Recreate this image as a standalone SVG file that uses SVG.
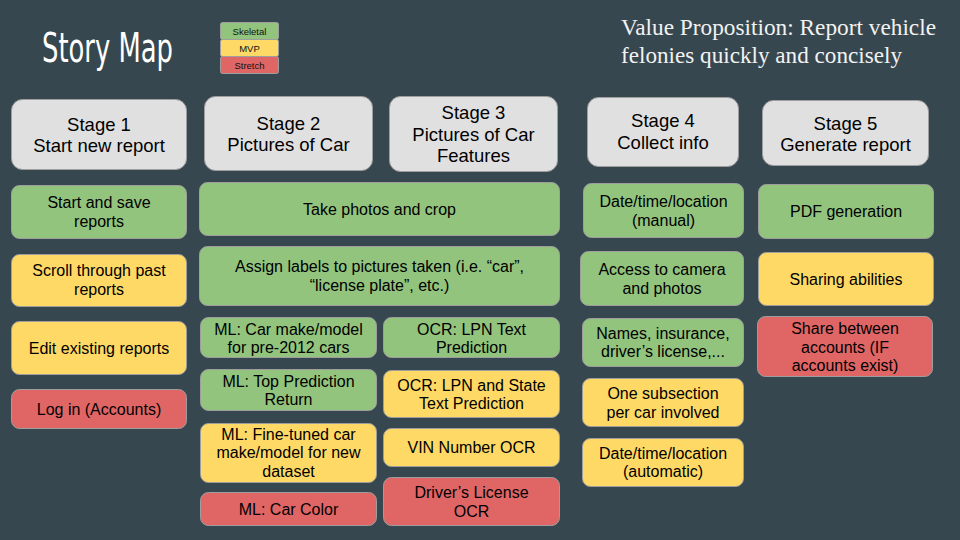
<svg xmlns="http://www.w3.org/2000/svg" width="960" height="540" viewBox="0 0 960 540">
  <style>
    .stage { fill: #e0e0e0; stroke: #9e9e9e; stroke-width: 1; }
    .sk { fill: #93c47d; stroke: #9e9e9e; stroke-width: 1; }
    .mvp { fill: #ffd966; stroke: #9e9e9e; stroke-width: 1; }
    .st { fill: #e06666; stroke: #9e9e9e; stroke-width: 1; }
    text { font-family: "Liberation Sans", Arial, sans-serif; fill: #000; text-anchor: middle; }
    .h { font-size: 18.5px; }
    .c { font-size: 16px; }
    .lg { font-size: 9.5px; fill: #111; }
    .title { font-family: "DejaVu Sans Condensed", "Liberation Sans Narrow", "Liberation Sans", sans-serif; font-size: 40px; fill: #fff; text-anchor: start; }
    .vp { font-family: "Liberation Serif", "Times New Roman", serif; font-size: 23px; fill: #f2f2f2; text-anchor: start; }
  </style>

  <rect width="960" height="540" fill="#37474f"/>

  <!-- Heading and value proposition -->
  <text class="title" x="42" y="62" textLength="131" lengthAdjust="spacingAndGlyphs">Story Map</text>
  <text class="vp" x="621" y="35" textLength="315" lengthAdjust="spacingAndGlyphs">Value Proposition: Report vehicle</text>
  <text class="vp" x="621" y="63" textLength="281" lengthAdjust="spacingAndGlyphs">felonies quickly and concisely</text>

  <!-- Priority legend -->
  <g id="legend">
    <rect class="sk" x="220.5" y="22.5" width="58" height="17" rx="2"/>
    <rect class="mvp" x="220.5" y="39.5" width="58" height="17" rx="2"/>
    <rect class="st" x="220.5" y="56.5" width="58" height="17" rx="2"/>
    <text class="lg" x="249.5" y="34.5">Skeletal</text>
    <text class="lg" x="249.5" y="51.5">MVP</text>
    <text class="lg" x="249.5" y="68.5">Stretch</text>
  </g>

  <!-- Stage headers -->
  <g id="stage1">
    <rect class="stage" x="11.5" y="99.5" width="175" height="70" rx="11"/>
    <text class="h" x="99" y="131">Stage 1</text>
    <text class="h" x="99" y="152">Start new report</text>
  </g>
  <g id="stage2">
    <rect class="stage" x="204.5" y="96.5" width="168" height="74" rx="11"/>
    <text class="h" x="288.5" y="130">Stage 2</text>
    <text class="h" x="288.5" y="151">Pictures of Car</text>
  </g>
  <g id="stage3">
    <rect class="stage" x="389.5" y="96.5" width="168" height="75" rx="11"/>
    <text class="h" x="473.5" y="119">Stage 3</text>
    <text class="h" x="473.5" y="140.5">Pictures of Car</text>
    <text class="h" x="473.5" y="162">Features</text>
  </g>
  <g id="stage4">
    <rect class="stage" x="587.5" y="97.5" width="151" height="69" rx="11"/>
    <text class="h" x="663" y="127">Stage 4</text>
    <text class="h" x="663" y="149">Collect info</text>
  </g>
  <g id="stage5">
    <rect class="stage" x="762.5" y="100.5" width="166" height="65" rx="11"/>
    <text class="h" x="845.5" y="130">Stage 5</text>
    <text class="h" x="845.5" y="151">Generate report</text>
  </g>

  <!-- Stage 1 stories -->
  <g id="start-save">
    <rect class="sk" x="11.5" y="185.5" width="175" height="53" rx="8"/>
    <text class="c" x="99" y="208">Start and save</text>
    <text class="c" x="99" y="227">reports</text>
  </g>
  <g id="scroll-past">
    <rect class="mvp" x="11.5" y="254.5" width="175" height="52" rx="8"/>
    <text class="c" x="99" y="276">Scroll through past</text>
    <text class="c" x="99" y="295">reports</text>
  </g>
  <g id="edit-existing">
    <rect class="mvp" x="11.5" y="321.5" width="175" height="53" rx="8"/>
    <text class="c" x="99" y="353.5">Edit existing reports</text>
  </g>
  <g id="log-in">
    <rect class="st" x="11.5" y="389.5" width="175" height="39" rx="8"/>
    <text class="c" x="99" y="414.5">Log in (Accounts)</text>
  </g>

  <!-- Stage 2 and 3 shared stories -->
  <g id="take-photos">
    <rect class="sk" x="199.5" y="182.5" width="360" height="53" rx="8"/>
    <text class="c" x="379.5" y="214.5">Take photos and crop</text>
  </g>
  <g id="assign-labels">
    <rect class="sk" x="199.5" y="246.5" width="360" height="59" rx="8"/>
    <text class="c" x="379.5" y="272">Assign labels to pictures taken (i.e. “car”,</text>
    <text class="c" x="379.5" y="291">“license plate”, etc.)</text>
  </g>

  <!-- Stage 2 stories -->
  <g id="ml-make-model">
    <rect class="sk" x="200.5" y="317.5" width="176" height="40" rx="8"/>
    <text class="c" x="288.5" y="334.5">ML: Car make/model</text>
    <text class="c" x="288.5" y="352.5">for pre-2012 cars</text>
  </g>
  <g id="ml-top-prediction">
    <rect class="sk" x="200.5" y="369.5" width="176" height="41" rx="8"/>
    <text class="c" x="288.5" y="386.5">ML: Top Prediction</text>
    <text class="c" x="288.5" y="404.5">Return</text>
  </g>
  <g id="ml-fine-tuned">
    <rect class="mvp" x="200.5" y="423.5" width="176" height="59" rx="8"/>
    <text class="c" x="288.5" y="439.5">ML: Fine-tuned car</text>
    <text class="c" x="288.5" y="458">make/model for new</text>
    <text class="c" x="288.5" y="476.5">dataset</text>
  </g>
  <g id="ml-car-color">
    <rect class="st" x="200.5" y="492.5" width="176" height="33" rx="8"/>
    <text class="c" x="288.5" y="514.5">ML: Car Color</text>
  </g>

  <!-- Stage 3 stories -->
  <g id="ocr-lpn">
    <rect class="sk" x="383.5" y="317.5" width="176" height="40" rx="8"/>
    <text class="c" x="471.5" y="334.5">OCR: LPN Text</text>
    <text class="c" x="471.5" y="352.5">Prediction</text>
  </g>
  <g id="ocr-lpn-state">
    <rect class="mvp" x="383.5" y="370.5" width="176" height="47" rx="8"/>
    <text class="c" x="471.5" y="390.5">OCR: LPN and State</text>
    <text class="c" x="471.5" y="408.5">Text Prediction</text>
  </g>
  <g id="vin-ocr">
    <rect class="mvp" x="383.5" y="428.5" width="176" height="38" rx="8"/>
    <text class="c" x="471.5" y="453">VIN Number OCR</text>
  </g>
  <g id="license-ocr">
    <rect class="st" x="383.5" y="477.5" width="176" height="48" rx="8"/>
    <text class="c" x="471.5" y="498">Driver’s License</text>
    <text class="c" x="471.5" y="516.5">OCR</text>
  </g>

  <!-- Stage 4 stories -->
  <g id="datetime-manual">
    <rect class="sk" x="583.5" y="183.5" width="160" height="54" rx="8"/>
    <text class="c" x="663.5" y="207">Date/time/location</text>
    <text class="c" x="663.5" y="226">(manual)</text>
  </g>
  <g id="camera-access">
    <rect class="sk" x="580.5" y="251.5" width="163" height="54" rx="8"/>
    <text class="c" x="662" y="275">Access to camera</text>
    <text class="c" x="662" y="294">and photos</text>
  </g>
  <g id="names-insurance">
    <rect class="sk" x="582.5" y="318.5" width="161" height="48" rx="8"/>
    <text class="c" x="663" y="338.5">Names, insurance,</text>
    <text class="c" x="663" y="357">driver’s license,...</text>
  </g>
  <g id="subsection-per-car">
    <rect class="mvp" x="582.5" y="378.5" width="161" height="48" rx="8"/>
    <text class="c" x="663" y="398.5">One subsection</text>
    <text class="c" x="663" y="417.5">per car involved</text>
  </g>
  <g id="datetime-auto">
    <rect class="mvp" x="582.5" y="438.5" width="161" height="48" rx="8"/>
    <text class="c" x="663" y="458.5">Date/time/location</text>
    <text class="c" x="663" y="477">(automatic)</text>
  </g>

  <!-- Stage 5 stories -->
  <g id="pdf-generation">
    <rect class="sk" x="758.5" y="184.5" width="175" height="54" rx="8"/>
    <text class="c" x="846" y="217">PDF generation</text>
  </g>
  <g id="sharing">
    <rect class="mvp" x="758.5" y="252.5" width="175" height="53" rx="8"/>
    <text class="c" x="846" y="284.5">Sharing abilities</text>
  </g>
  <g id="share-accounts">
    <rect class="st" x="757.5" y="316.5" width="175" height="60" rx="8"/>
    <text class="c" x="845" y="333.5">Share between</text>
    <text class="c" x="845" y="352.5">accounts (IF</text>
    <text class="c" x="845" y="371">accounts exist)</text>
  </g>

  <g id="connectors"/>
</svg>
